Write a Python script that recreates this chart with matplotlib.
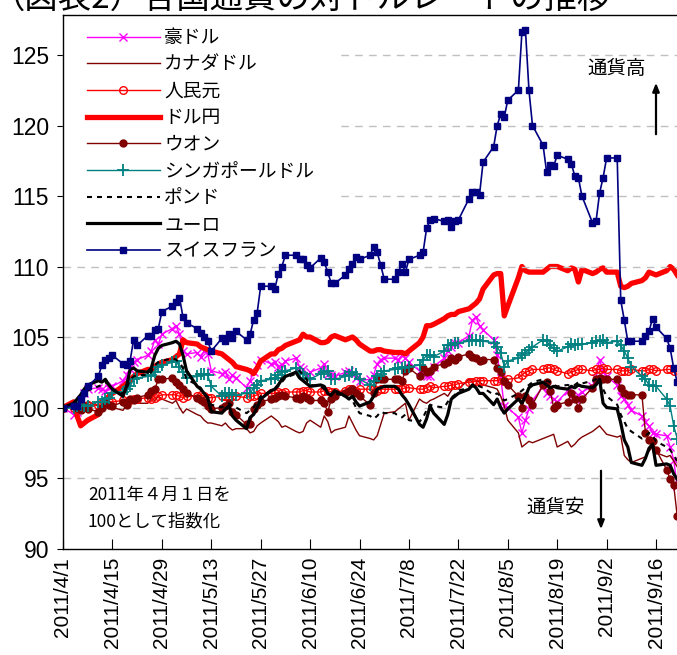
import matplotlib
matplotlib.use("Agg")
import matplotlib.pyplot as plt
import matplotlib.dates as mdates
import pandas as pd

plt.rcParams['font.family'] = ['Noto Sans CJK JP', 'DejaVu Sans']

# business days, 2011/4/1 - 2011/9/22 (index, 2011/4/1 = 100)
dates = pd.bdate_range('2011-04-01', '2011-09-22')

tick_labels = ['2011/4/1', '2011/4/15', '2011/4/29', '2011/5/13', '2011/5/27',
               '2011/6/10', '2011/6/24', '2011/7/8', '2011/7/22', '2011/8/5',
               '2011/8/19', '2011/9/2', '2011/9/16']

aud = [100.0,
       99.5, 99.7, 100.5, 101.0, 101.3,
       101.4, 101.3, 101.2, 101.4, 101.5,
       101.9, 102.3, 102.7, 103.2, 103.4,
       103.7, 104.0, 104.8, 104.5, 105.2,
       105.6, 105.8, 105.2, 104.0, 103.8,
       103.9, 103.6, 104.0, 103.8, 102.6,
       102.4, 102.5, 102.0, 102.3, 102.1,
       101.4, 101.9, 102.5, 103.0, 103.4,
       103.1, 103.2, 102.9, 103.0, 103.3,
       103.5, 102.9, 102.7, 102.2, 102.5,
       102.8, 103.1, 102.4, 102.3, 102.2,
       102.5, 102.6, 102.4, 102.1, 101.9,
       102.0, 102.3, 103.1, 103.4, 103.5,
       103.5, 103.4, 103.7, 103.5, 103.2,
       102.6, 102.4, 102.2, 102.2, 102.9,
       103.5, 104.0, 104.3, 104.6, 104.6,
       105.1, 106.2, 106.4, 105.8, 105.5,
       104.8, 103.7, 102.1, 100.1, 100.0,
       99.3, 98.2, 99.1, 99.9, 100.5,
       101.5, 101.0, 100.8, 100.6, 100.4,
       101.2, 100.8, 100.6, 100.9, 101.1,
       101.5, 102.1, 103.4, 102.5, 102.2,
       101.6, 100.8, 100.6, 100.2, 99.8,
       99.4, 99.0, 98.7, 98.2, 98.1,
       98.0, 97.2, 96.3, 94.4]

cad = [100.0,
       100.0, 100.3, 100.0, 100.2, 100.4,
       100.1, 99.8, 100.2, 99.9, 100.0,
       99.8, 100.2, 100.4, 100.6, 100.3,
       100.3, 100.6, 100.5, 100.8, 100.6,
       100.3, 100.5, 100.0, 99.6, 99.9,
       99.5, 99.4, 99.1, 98.9, 98.9,
       98.7, 98.9, 98.6, 98.4, 98.5,
       98.5, 98.2, 98.3, 98.7, 98.9,
       99.4, 99.2, 99.0, 98.6, 98.7,
       98.3, 98.2, 98.3, 98.9, 99.1,
       98.6, 99.4, 99.0, 98.2, 98.4,
       98.6, 99.4, 98.9, 98.4, 98.0,
       97.8, 97.7, 98.0, 98.8, 99.6,
       99.7, 99.9, 100.1, 100.3, 99.1,
       100.6, 100.4, 100.3, 100.5, 100.6,
       101.0, 100.8, 101.2, 101.5, 101.3,
       102.0, 101.8, 101.9, 101.8, 101.6,
       101.4, 101.3, 100.8, 100.1, 99.1,
       98.2, 97.2, 97.4, 97.6, 97.5,
       97.8, 97.9, 98.0, 98.1, 97.2,
       97.6, 97.2, 97.4, 97.7, 97.9,
       98.3, 98.5, 98.7, 98.4, 98.1,
       97.9, 98.0, 96.6, 96.3, 96.1,
       96.4, 96.5, 96.9, 97.2, 96.8,
       96.5, 96.6, 96.2, 95.8]

cny = [100.0,
       100.0, 100.1, 100.2, 100.1, 100.2,
       100.2, 100.3, 100.3, 100.4, 100.4,
       100.5, 100.4, 100.5, 100.6, 100.6,
       100.7, 100.6, 100.7, 100.8, 100.9,
       100.9, 100.9, 100.8, 100.7, 100.8,
       100.8, 100.9, 100.8, 100.7, 100.7,
       100.8, 100.8, 100.7, 100.8, 100.8,
       100.7, 100.8, 100.8, 100.9, 101.0,
       101.0, 101.0, 101.1, 101.0, 101.1,
       101.1, 101.1, 101.2, 101.2, 101.1,
       101.1, 101.2, 101.2, 101.1, 101.1,
       101.2, 101.3, 101.3, 101.2, 101.3,
       101.3, 101.3, 101.2, 101.3, 101.3,
       101.3, 101.3, 101.3, 101.4, 101.4,
       101.3, 101.3, 101.4, 101.5, 101.4,
       101.5, 101.5, 101.6, 101.6, 101.7,
       101.8, 101.8, 101.9, 101.9, 101.9,
       101.9, 101.9, 102.0, 101.9, 102.0,
       102.1, 102.3, 102.5, 102.6, 102.7,
       102.7, 102.8, 102.8, 102.7, 102.6,
       102.4, 102.5, 102.6, 102.7, 102.7,
       102.6, 102.7, 102.7, 102.8, 102.7,
       102.7, 102.6, 102.6, 102.6, 102.7,
       102.6, 102.6, 102.7, 102.7, 102.6,
       102.7, 102.7, 102.6, 102.7]

jpy = [100.0,
       100.4, 99.4, 98.7, 98.9, 99.1,
       99.5, 100.0, 100.4, 100.8, 101.0,
       101.5, 101.7, 101.9, 102.2, 102.4,
       102.7, 102.7, 102.9, 103.1, 103.2,
       103.4, 103.6, 103.8, 104.8, 104.6,
       104.5, 104.3, 104.2, 104.1, 104.0,
       103.8, 103.6, 103.4, 103.2, 102.9,
       102.7, 102.6, 102.4, 102.8, 103.3,
       103.8, 103.8, 104.1, 104.2, 104.4,
       104.7, 104.8, 105.2, 105.0, 105.0,
       104.6, 104.6, 104.7, 105.0, 105.1,
       104.8, 104.9, 105.0, 104.8, 104.5,
       104.0, 104.0, 104.1, 104.1, 104.0,
       103.9, 103.9, 103.9, 103.8, 104.0,
       104.6, 105.0, 105.8, 105.8, 105.9,
       106.3, 106.5, 106.6, 106.6, 106.8,
       107.0, 107.2, 107.4, 107.7, 108.4,
       109.4, 109.5, 109.5, 106.5, 107.2,
       109.2, 110.0, 109.7, 109.6, 109.6,
       109.6, 109.8, 110.0, 110.0, 110.0,
       109.7, 109.9, 109.8, 108.9, 109.8,
       109.5, 109.6, 109.8, 109.9, 109.6,
       109.6, 108.6, 108.5, 108.6, 108.8,
       109.0, 109.2, 109.6, 109.5, 109.4,
       109.7, 110.0, 109.8, 109.4]

krw = [100.0,
       100.2, 100.0, 99.8, 100.1, 99.9,
       99.7, 100.0, 100.3, 100.2, 100.1,
       100.4, 100.2, 100.6, 100.5, 100.7,
       100.9, 101.2, 101.3, 102.0, 102.0,
       102.1, 101.8, 101.6, 101.3, 101.0,
       100.7, 100.5, 100.4, 100.1, 99.9,
       100.0, 100.1, 100.3, 99.7, 99.5,
       98.8, 98.8, 99.9, 100.2, 100.4,
       100.6, 100.7, 100.8, 100.9, 100.8,
       100.7, 100.6, 100.8, 100.7, 100.5,
       100.5, 100.3, 99.7, 100.6, 100.8,
       101.0, 101.2, 101.3, 101.0, 100.8,
       100.2, 101.0, 102.0, 102.0, 102.0,
       102.0, 102.0, 101.9, 102.6, 102.8,
       102.2, 102.8, 102.5, 102.6, 102.9,
       103.1, 103.2, 103.5, 103.4, 103.6,
       103.8, 103.6, 103.5, 103.3, 103.4,
       103.4, 102.8, 102.5, 101.9, 101.6,
       100.8, 100.0, 100.8, 100.5, 100.2,
       101.6, 101.8, 101.2, 100.0, 100.2,
       100.4, 101.0, 100.6, 100.0, 100.6,
       101.4, 102.0, 102.1, 102.0, 102.0,
       102.0, 101.4, 101.0, 100.9, 100.9,
       100.9, 98.2, 97.7, 97.6, 97.0,
       95.6, 94.9, 94.5, 92.3]

sgd = [100.0,
       100.0, 100.1, 100.2, 100.1, 100.1,
       100.4, 100.4, 100.6, 100.7, 101.0,
       101.1, 101.3, 101.5, 102.0, 102.1,
       102.2, 102.3, 102.5, 102.9, 103.0,
       103.2, 103.3, 102.9, 102.5, 102.1,
       102.2, 102.4, 102.4, 102.3, 101.5,
       100.8, 101.0, 101.0, 100.9, 100.9,
       101.0, 101.0, 101.4, 101.6, 101.9,
       102.0, 102.1, 102.3, 102.5, 102.6,
       102.8, 102.5, 102.4, 102.1, 102.0,
       102.4, 102.5, 102.6, 102.0, 102.0,
       102.2, 102.3, 102.5, 102.4, 102.0,
       101.6, 101.9, 102.2, 102.4, 102.6,
       102.7, 102.8, 102.8, 102.9, 102.9,
       103.0, 103.4, 103.7, 103.7, 103.6,
       104.0, 104.4, 104.4, 104.6, 104.6,
       104.7, 104.8, 104.8, 104.7, 104.7,
       104.6, 104.3, 103.9, 102.9, 103.3,
       103.5, 103.7, 103.9, 104.1, 104.3,
       104.8, 104.7, 104.4, 104.2, 104.0,
       104.3, 104.5, 104.4, 104.5, 104.5,
       104.6, 104.7, 104.7, 104.8, 104.6,
       104.7, 104.4, 104.0, 103.5, 102.9,
       102.2, 102.0, 101.6, 101.5, 101.5,
       100.6, 100.1, 98.7, 97.8]

gbp = [100.0,
       100.2, 100.4, 100.6, 100.9, 101.2,
       101.5, 101.6, 101.8, 101.6, 101.3,
       101.0, 101.3, 102.0, 102.2, 102.3,
       102.3, 102.5, 103.0, 103.2, 103.3,
       103.5, 103.4, 103.2, 102.8, 102.0,
       101.6, 101.4, 101.0, 100.6, 100.2,
       100.0, 100.2, 100.3, 100.1, 100.0,
       99.6, 99.8, 100.0, 100.4, 100.8,
       101.2, 101.3, 101.5, 101.8, 102.1,
       102.4, 102.6, 102.3, 102.0, 101.6,
       101.5, 101.3, 101.0, 100.8, 101.0,
       100.8, 100.6, 100.5, 100.0, 99.6,
       99.4, 99.2, 99.4, 99.7, 99.6,
       99.6, 99.4, 99.3, 99.5, 99.1,
       99.0, 99.3, 99.8, 100.2, 100.1,
       100.0, 100.4, 100.7, 100.9, 101.2,
       101.4, 101.5, 101.6, 101.5, 101.4,
       100.9, 101.0, 100.8, 100.5, 100.6,
       101.0, 101.2, 101.4, 101.6, 101.8,
       102.0, 101.9, 101.8, 101.6, 101.5,
       101.6, 101.5, 101.6, 101.8, 101.7,
       101.9, 102.0, 102.1, 101.3, 100.8,
       100.2, 99.5, 99.0, 98.5, 98.3,
       97.8, 98.0, 98.2, 98.0, 97.6,
       97.2, 97.0, 96.6, 96.2]

eur = [100.0,
       100.3, 100.6, 100.9, 101.3, 101.6,
       101.9, 101.8, 102.0, 101.6, 101.3,
       100.8, 101.5, 102.7, 102.8, 102.6,
       102.5, 102.8, 103.7, 104.2, 104.4,
       104.6, 104.7, 104.5, 103.7, 102.6,
       101.5, 101.3, 101.0, 100.7, 99.7,
       99.6, 99.9, 100.1, 99.4, 99.1,
       98.5, 99.3, 99.5, 100.0, 100.6,
       101.2, 101.3, 101.6, 102.0, 102.2,
       102.5, 102.1, 101.9, 101.7, 101.5,
       101.6, 101.5, 101.0, 100.9, 101.2,
       100.8, 100.6, 100.8, 100.4, 100.1,
       100.4, 100.8, 101.3, 101.4, 101.5,
       101.5, 101.3, 100.9, 100.6, 100.2,
       98.8, 98.6, 99.2, 100.1, 99.6,
       98.8, 99.5, 100.6, 100.8, 101.0,
       101.3, 101.6, 101.4, 101.0, 101.0,
       100.2, 100.6, 100.0, 99.6, 99.9,
       100.6, 100.3, 100.8, 101.4, 101.6,
       101.8, 101.6, 101.4, 101.5, 101.4,
       101.3, 101.5, 101.4, 101.6, 101.5,
       101.4, 101.6, 102.0, 100.3, 100.0,
       99.9, 98.9, 97.7, 97.2, 96.1,
       95.9, 96.4, 97.1, 97.4, 95.9,
       96.0, 95.9, 95.3, 94.9]

chf = [100.0,
       100.1, 100.1, 100.6, 101.0, 101.5,
       102.2, 103.0, 103.4, 103.5, 103.7,
       103.1, 103.0, 103.3, 104.8, 104.4,
       105.1, 105.1, 105.5, 105.6, 106.8,
       107.2, 107.5, 107.8, 106.4, 106.0,
       105.6, 105.3, 105.0, 104.7, 104.0,
       104.9, 104.7, 105.2, 104.9, 105.4,
       104.8, 105.2, 106.2, 106.7, 108.6,
       108.6, 108.4, 109.5, 110.0, 110.8,
       110.8, 110.5, 110.5, 110.1, 109.9,
       110.6, 110.3, 109.6, 108.8, 108.8,
       109.4, 109.8, 110.2, 110.7, 110.5,
       110.8, 111.4, 111.0, 110.1, 109.1,
       109.1, 109.6, 110.2, 109.6, 110.5,
       110.8, 111.0, 112.7, 113.3, 113.4,
       113.2, 113.3, 112.8, 113.2, 113.3,
       114.8, 115.3, 115.3, 115.1, 117.4,
       118.5, 120.0, 120.8, 120.6, 121.8,
       122.5, 126.6, 126.8, 122.5, 120.0,
       118.6, 116.7, 117.2, 117.1, 117.9,
       117.6, 117.3, 116.4, 116.3, 115.0,
       113.1, 113.2, 115.2, 116.3, 117.7,
       117.7, 107.6, 106.2, 104.7, 104.7,
       104.7, 105.1, 105.4, 106.3, 105.7,
       104.9, 104.2, 102.8, 101.8]

series = [
    ('豪ドル', aud, dict(color='#FF00FF', lw=1.0, marker='x', ms=6, mew=1.0)),
    ('カナダドル', cad, dict(color='#800000', lw=1.0)),
    ('人民元', cny, dict(color='#FF0000', lw=1.0, marker='o', ms=5.5, mew=1.0, mfc='none')),
    ('ドル円', jpy, dict(color='#FF0000', lw=3.8)),
    ('ウオン', krw, dict(color='#800000', lw=1.0, marker='o', ms=5)),
    ('シンガポールドル', sgd, dict(color='#008080', lw=1.0, marker='+', ms=8, mew=1.3)),
    ('ポンド', gbp, dict(color='black', lw=1.5, ls=(0, (2.4, 2.4)))),
    ('ユーロ', eur, dict(color='black', lw=2.3)),
    # the franc line climbs past the legend box, so it is drawn above it
    ('スイスフラン', chf, dict(color='#000080', lw=1.2, marker='s', ms=4.5, zorder=6)),
]

W, H = 677, 655
fig = plt.figure(figsize=(W / 100, H / 100), dpi=100)
ax_left, ax_right, ax_top, ax_bot = 63, 690, 15, 548.5
ax = fig.add_axes([ax_left / W, (H - ax_bot) / H,
                   (ax_right - ax_left) / W, (ax_bot - ax_top) / H])

for name, vals, style in series:
    ax.plot(dates, vals, label=name, **style)

d0 = mdates.date2num(pd.Timestamp('2011-04-01'))
px_per_day = 3.53
ax.set_xlim(d0, d0 + (ax_right - ax_left) / px_per_day)
ax.set_ylim(90, 90 + (ax_bot - ax_top) / 14.1)

ax.set_xticks([mdates.date2num(pd.Timestamp(s.replace('/', '-'))) for s in tick_labels])
ax.set_xticklabels(tick_labels, rotation=90, fontsize=15, family='Liberation Sans')
ax.set_yticks([90, 95, 100, 105, 110, 115, 120, 125])
ax.set_yticklabels(['90', '95', '100', '105', '110', '115', '120', '125'],
                   fontsize=16.5, family='Liberation Sans')
ax.tick_params(axis='y', direction='out', length=4, pad=6)
ax.tick_params(axis='x', direction='in', length=7, pad=6)

for v in [95, 100, 105, 110, 115, 120, 125]:
    # the 110 line runs just below the legend text and stays visible there
    ax.axhline(v, color='#C0C0C0', lw=1.0, ls=(0, (5.5, 4.5)),
               zorder=5.5 if v == 110 else 0.5)

ax.spines['right'].set_visible(False)
for s in ax.spines.values():
    s.set_zorder(10)
    s.set_linewidth(1.0)

leg = ax.legend(loc='upper left', bbox_to_anchor=(0.0, 1.0 + 12 / (ax_bot - ax_top)),
                frameon=True, fancybox=False, framealpha=1, edgecolor='white',
                fontsize=13.5, numpoints=1, handlelength=3.85, handletextpad=0.25,
                labelspacing=0.3, borderpad=1.3, borderaxespad=0)
leg.set_zorder(5)

def fx(px):
    return px / W

def fy(py):
    return 1 - py / H

fig.text(-0.012, fy(-2), '（図表2）各国通貨の対ドルレートの推移', fontsize=24,
         ha='left', va='center')

fig.text(fx(617), fy(68), '通貨高', fontsize=14, ha='center', va='center')
fig.text(fx(556), fy(507), '通貨安', fontsize=14, ha='center', va='center')
fig.text(fx(88), fy(495), '2011年４月１日を', fontsize=12.5, ha='left', va='center')
fig.text(fx(88), fy(521), '100として指数化', fontsize=12.5, ha='left', va='center')

arrow = dict(arrowstyle='-|>,head_length=0.5,head_width=0.2', color='black', lw=1.6)
ax.annotate('', xy=(fx(656), fy(80)), xytext=(fx(656), fy(137)),
            xycoords='figure fraction', textcoords='figure fraction', arrowprops=arrow)
ax.annotate('', xy=(fx(601), fy(532)), xytext=(fx(601), fy(468)),
            xycoords='figure fraction', textcoords='figure fraction', arrowprops=arrow)

fig.savefig('out.png', dpi=100)
